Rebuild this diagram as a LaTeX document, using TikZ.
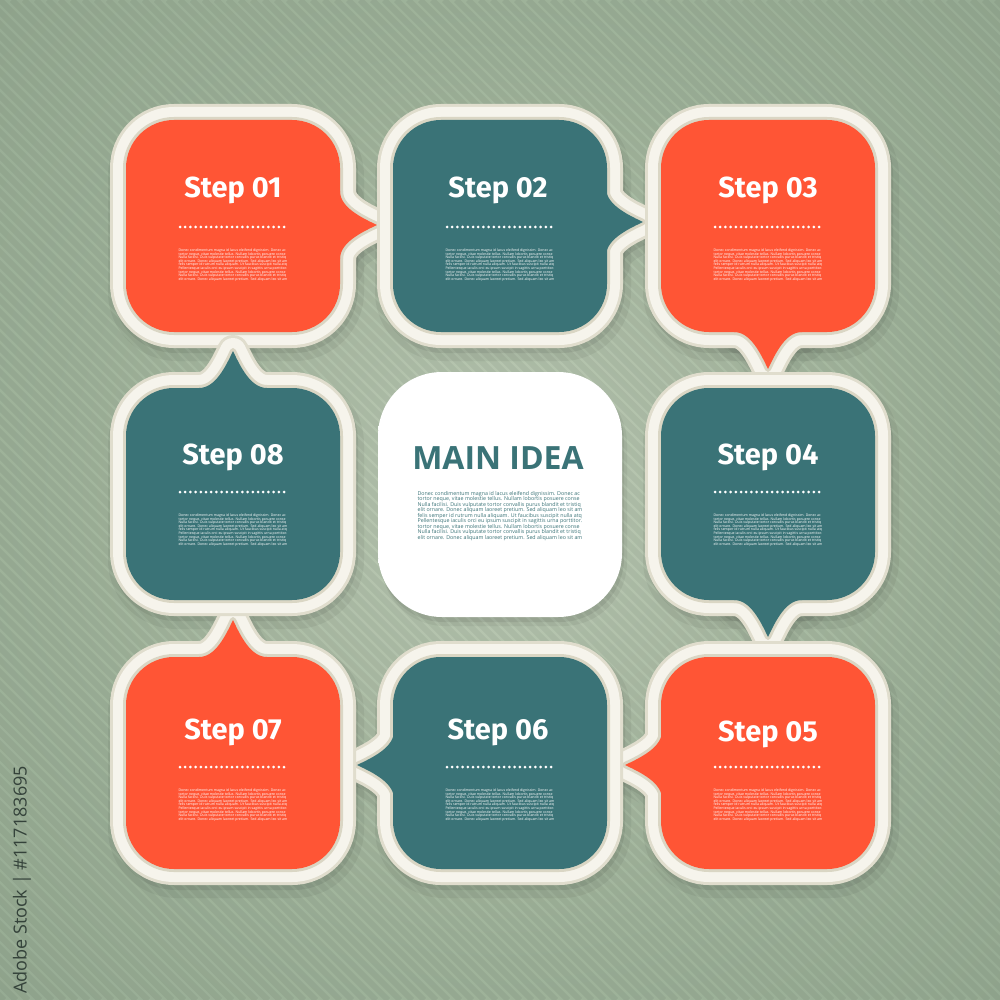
\documentclass[tikz,border=0pt]{standalone}
\usepackage{fontspec}
\setmainfont{Fira Sans}
\newfontfamily\opensans{Open Sans}
\definecolor{bgdark}{HTML}{8BA18A}
\definecolor{bgmid}{HTML}{A0B49B}
\definecolor{bglight}{HTML}{BECBB6}
\definecolor{framecol}{HTML}{F6F4EC}
\definecolor{framedark}{HTML}{E0DDCD}
\definecolor{innershade}{HTML}{DAD6C4}
\definecolor{stepred}{HTML}{FF5535}
\definecolor{stepteal}{HTML}{3A7377}
\definecolor{sidetext}{HTML}{34423A}
\definecolor{mainedge}{HTML}{EFEDE2}
\definecolor{mainedge2}{HTML}{E2DFCF}
\pgfdeclareradialshading{bgshade}{\pgfpoint{0bp}{0bp}}{color(0bp)=(bglight); color(22bp)=(bgmid); color(50bp)=(bgdark); color(75bp)=(bgdark)}
\pgfdeclareradialshading{mainshade}{\pgfpoint{0bp}{0bp}}{color(0bp)=(white); color(36bp)=(white); color(48bp)=(mainedge); color(75bp)=(mainedge2)}
\newcommand\BoxShape[6]{%
  \path[#6,rounded corners=24pt] (#1-107,#2-106) rectangle (#1+107,#2+106);
  \path[#6,shift={(#3,#4)},rotate=#5] (-34,0) .. controls (-18,0) and (-8,-20) .. (0,-37) .. controls (8,-20) and (18,0) .. (34,0) -- (34,26) -- (-34,26) -- cycle;
}
\newcommand\FullBox[6]{%
  \BoxShape{#1}{#2}{#3}{#4}{#5}{draw=framedark,line width=16pt,line join=round}
  \BoxShape{#1}{#2}{#3}{#4}{#5}{draw=framecol,line width=13pt,line join=round}
  \BoxShape{#1}{#2}{#3}{#4}{#5}{draw=innershade,line width=3pt,line join=round}
  \BoxShape{#1}{#2}{#3}{#4}{#5}{fill=#6}
}
\newcommand\Shadow[5]{%
  \BoxShape{#1}{#2}{#3}{#4}{#5}{draw=black,opacity=0.05,line width=21pt,line join=round,shift={(3,8)}}
  \BoxShape{#1}{#2}{#3}{#4}{#5}{draw=black,opacity=0.07,line width=16pt,line join=round,shift={(2,5)}}
}
\newcommand\lorem{Donec condimentum magna id lacus eleifend dignissim. Donec ac\\
tortor neque, vitae molestie tellus. Nullam lobortis posuere conse\\
Nulla facilisi. Duis vulputate tortor convallis purus blandit et tristiq\\
elit ornare. Donec aliquam laoreet pretium. Sed aliquam leo sit am\\
felis semper id rutrum nulla aliquam. Ut faucibus suscipit nulla atq\\
Pellentesque iaculis orci eu ipsum suscipit in sagittis urna porttitor.\\
tortor neque, vitae molestie tellus. Nullam lobortis posuere conse\\
Nulla facilisi. Duis vulputate tortor convallis purus blandit et tristiq\\
elit ornare. Donec aliquam laoreet pretium. Sed aliquam leo sit am}
\tikzset{
  steplabel/.style={text=white,font=\bfseries\fontsize{14.5}{16}\selectfont,inner sep=0pt},
  dotline/.style={draw=white,line width=1.5pt,line cap=round,dash pattern=on 0pt off 2.6pt},
  bodytxt/.style={text=white,font=\opensans\fontsize{1.75}{1.8}\selectfont,align=left,inner sep=0pt},
}
\begin{document}
\begin{tikzpicture}[x=0.5pt,y=-0.5pt]
\useasboundingbox (0,0) rectangle (1000,1000);
% background
\shade[shading=bgshade] (0,0) rectangle (1000,1000);
\begin{scope}
\clip (0,0) rectangle (1000,1000);
\foreach \k in {-1008,-996,...,1000} \draw[black,opacity=0.05,line width=3pt] (\k,0) -- (\k+1000,1000);
\end{scope}
% shadows
\Shadow{233}{226}{340}{225}{-90}
\Shadow{500}{226}{606}{222}{-90}
\Shadow{768}{226}{768}{332}{180}
\Shadow{768}{494}{768}{600}{180}
\Shadow{768}{763}{662}{765}{90}
\Shadow{500}{763}{394}{765}{90}
\Shadow{233}{763}{233}{657}{0}
\Shadow{233}{494}{233}{388}{0}
\fill[black,opacity=0.05,rounded corners=32pt] (381,380) rectangle (627,626);
\fill[black,opacity=0.07,rounded corners=32pt] (380,377) rectangle (624,622);
% boxes
\FullBox{233}{226}{340}{225}{-90}{stepred}
\FullBox{500}{226}{606}{222}{-90}{stepteal}
\FullBox{768}{226}{768}{332}{180}{stepred}
\FullBox{768}{494}{768}{600}{180}{stepteal}
\FullBox{768}{763}{662}{765}{90}{stepred}
\FullBox{500}{763}{394}{765}{90}{stepteal}
\FullBox{233}{763}{233}{657}{0}{stepred}
\FullBox{233}{494}{233}{388}{0}{stepteal}
% main idea
\shade[shading=mainshade,rounded corners=32pt] (378,372) rectangle (622,617);
\node[text=stepteal,font=\opensans\bfseries\fontsize{16}{18}\selectfont,inner sep=0pt] (main) at (498,458) {MAIN IDEA};
\node[text=stepteal,font=\opensans\fontsize{2.65}{2.75}\selectfont,align=left,inner sep=0pt] (mainbody) at (500,516) {\lorem};
% step texts
\node[steplabel] (l1) at (233,190) {Step 01};
\draw[dotline] (180,227) coordinate (d1a) -- (287,227) coordinate (d1b);
\node[bodytxt] (b1) at (233,265) {\lorem};
\node[steplabel] (l2) at (498,190) {Step 02};
\draw[dotline] (447,227) coordinate (d2a) -- (554,227) coordinate (d2b);
\node[bodytxt] (b2) at (500,265) {\lorem};
\node[steplabel] (l3) at (768,190) {Step 03};
\draw[dotline] (715,227) coordinate (d3a) -- (822,227) coordinate (d3b);
\node[bodytxt] (b3) at (768,265) {\lorem};
\node[steplabel] (l4) at (768,457) {Step 04};
\draw[dotline] (715,492) coordinate (d4a) -- (822,492) coordinate (d4b);
\node[bodytxt] (b4) at (768,530) {\lorem};
\node[steplabel] (l5) at (768,734) {Step 05};
\draw[dotline] (715,767) coordinate (d5a) -- (822,767) coordinate (d5b);
\node[bodytxt] (b5) at (768,805) {\lorem};
\node[steplabel] (l6) at (498,732) {Step 06};
\draw[dotline] (447,767) coordinate (d6a) -- (554,767) coordinate (d6b);
\node[bodytxt] (b6) at (500,805) {\lorem};
\node[steplabel] (l7) at (233,732) {Step 07};
\draw[dotline] (180,767) coordinate (d7a) -- (287,767) coordinate (d7b);
\node[bodytxt] (b7) at (233,805) {\lorem};
\node[steplabel] (l8) at (233,457) {Step 08};
\draw[dotline] (180,492) coordinate (d8a) -- (287,492) coordinate (d8b);
\node[bodytxt] (b8) at (233,530) {\lorem};
% side text
\node[rotate=90,text=sidetext,font=\opensans\fontsize{9}{10}\selectfont,inner sep=0pt] (adobe) at (22,880) {Adobe Stock | \#117183695};
\end{tikzpicture}
\end{document}
